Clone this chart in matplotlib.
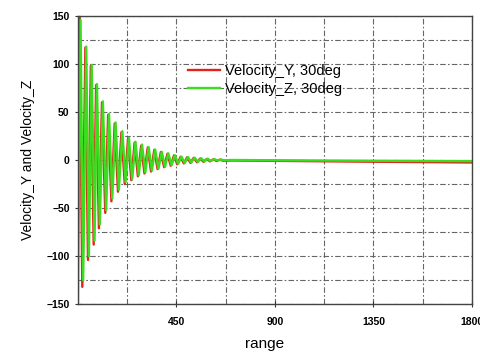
import numpy as np
import matplotlib
matplotlib.use("Agg")
import matplotlib.pyplot as plt

plt.rcParams["font.family"] = ["Liberation Sans", "DejaVu Sans"]

# extrema (range, value)
vy_x = [0, 8, 20, 34, 46, 59, 72, 83, 96, 110, 125, 138, 153, 168, 183, 199,
        214, 229, 244, 259, 274, 289, 304, 319, 334, 349, 364, 379, 394, 409,
        424, 439, 454, 469, 484, 499, 514, 529, 544, 559, 574, 589, 604, 619,
        634, 649, 664, 700, 900, 1350, 1800]
vy = [105, 148, -132, 117, -104, 98, -88, 78, -71, 60, -55, 47, -43, 38, -33, 29,
      -25, 22, -21, 18, -17, 15, -14, 13, -12, 10.5, -9.5, 8.3, -7.5, 6.5,
      -6, 4.8, -4.5, 3.3, -3.6, 2.8, -3, 2.2, -2.4, 1.6, -1.9, 1.1, -1.4, 0.7,
      -1.1, 0.4, -0.8, -0.5, -0.9, -1.8, -2.6]

vz_x = [0, 12, 24, 38, 50, 63, 76, 87, 100, 114, 129, 142, 157, 172, 187, 203,
        218, 233, 248, 263, 278, 293, 308, 323, 338, 353, 368, 383, 398, 413,
        428, 443, 458, 473, 488, 503, 518, 533, 548, 563, 578, 593, 608, 623,
        638, 653, 668, 700, 900, 1350, 1800]
vz = [-148, 146, -125, 118, -100, 99, -84, 79, -67, 61, -52, 48, -40, 39, -31, 30,
      -23, 23, -20, 19, -16, 16, -13, 13.5, -11, 11, -9, 8.6, -7, 7,
      -5.5, 5, -4, 3.5, -3.2, 3, -2.6, 2.4, -2, 1.8, -1.5, 1.3, -1, 0.9,
      -0.6, 0.5, -0.3, 0, -0.3, -0.8, -1.2]

xticks = [450, 900, 1350, 1800]
yticks = [-150, -100, -50, 0, 50, 100, 150]

fig = plt.figure(figsize=(4.81, 3.52), dpi=100)
ax = fig.add_axes([0.162, 0.136, 0.819, 0.819])

ax.plot(vy_x, vy, color="#e3231b", lw=1.7, label="Velocity_Y, 30deg")
ax.plot(vz_x, vz, color="#3ade1f", lw=1.7, label="Velocity_Z, 30deg")

ax.set_xlim(0, 1800)
ax.set_ylim(-150, 150)
ax.set_xticks(xticks)
ax.set_yticks(yticks)
ax.set_xticks(np.arange(225, 1800, 450), minor=True)
ax.set_yticks(np.arange(-125, 150, 50), minor=True)
ax.grid(True, which="both", color="#666666", linestyle=(0, (5, 2, 1.5, 2)), lw=0.8)
ax.tick_params(which="major", labelsize=7.5, direction="inout", length=5,
               width=0.8, colors="#333333", labelcolor="black")
ax.tick_params(axis="x", which="major", pad=7)
ax.tick_params(which="minor", length=0)
for lab in ax.get_xticklabels() + ax.get_yticklabels():
    lab.set_fontweight("bold")
for s in ax.spines.values():
    s.set_color("#444444")
    s.set_linewidth(1.0)

ax.set_xlabel("range", fontsize=11)
ax.xaxis.set_label_coords(0.475, -0.115)
ax.set_ylabel("Velocity_Y and Velocity_Z", fontsize=10, labelpad=8)

ax.legend(loc="upper left", bbox_to_anchor=(0.265, 0.853), frameon=False,
          fontsize=10.5, handlelength=2.2, handletextpad=0.3, labelspacing=0.25,
          borderaxespad=0)

fig.savefig("out.png", dpi=100)
